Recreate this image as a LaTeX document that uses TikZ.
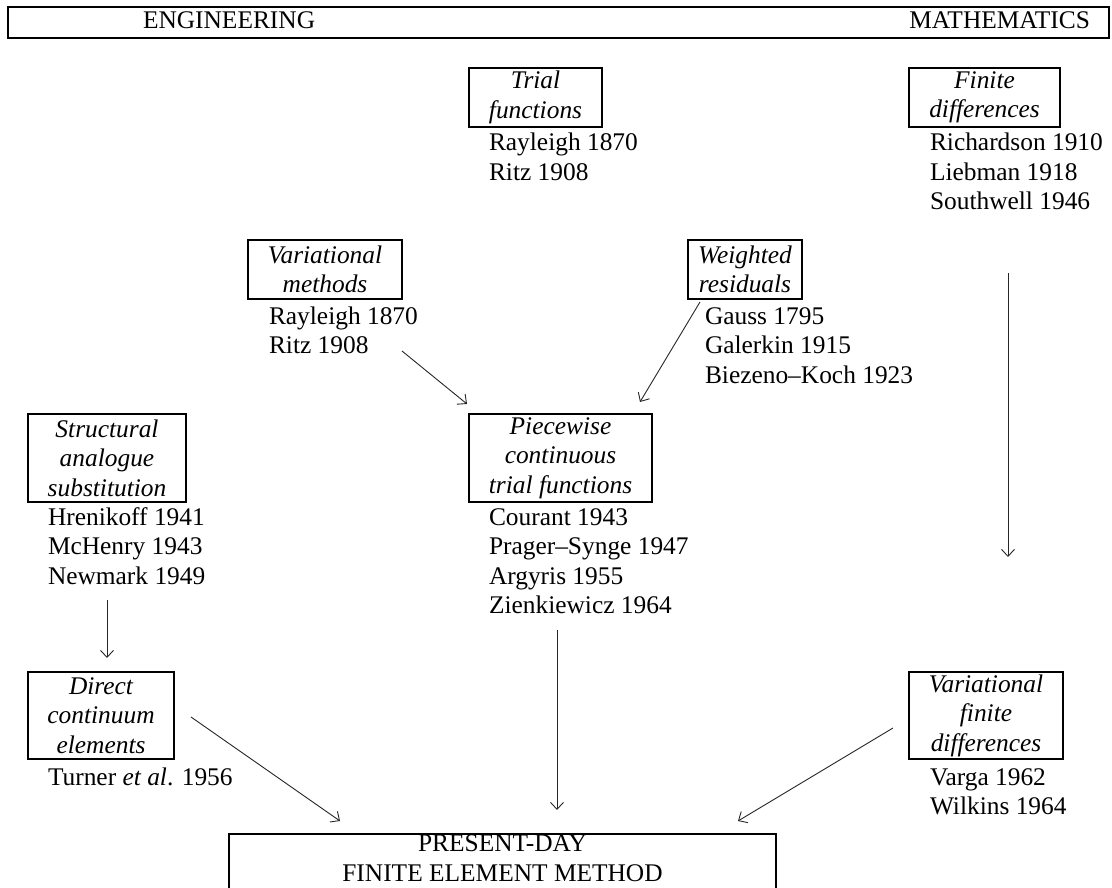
\documentclass[tikz,border=0pt]{standalone}
\usepackage{fontspec}
\setmainfont{Liberation Serif}
\usetikzlibrary{arrows.meta,calc,positioning}

\begin{document}
\begin{tikzpicture}[
  x=1pt, y=1pt,
  every node/.style={font=\fontsize{25.4}{29.5}\selectfont, inner sep=0pt, outer sep=0pt},
  topic/.style={
    draw,
    line width=1.2pt,
    align=center,
    anchor=north west,
    minimum width=#1,
    minimum height=59pt,
    font=\fontsize{25.4}{29.5}\selectfont\itshape
    },
  names/.style={align=left, anchor=base west},
  arr/.style={line width=0.9pt, black!85, -{Straight Barb[length=7pt,width=13pt]}}
]
\useasboundingbox (0,0) rectangle (1112,-888);
\clip (0,0) rectangle (1112,-888);

% heading bar
\node[draw, line width=1.5pt, anchor=north west, minimum width=1101pt, minimum height=31pt] (bar) at (8,-7) {};
\node[anchor=base west] (eng) at (143,-29) {ENGINEERING};
\node[anchor=base east] (math) at (1090,-29) {MATHEMATICS};

% topics and names (names placed at the baseline of their last line)
\node[topic=133pt] (trial) at (469,-68) {Trial\\functions};
\node[names] (triallist) at (489,-180.5) {Rayleigh 1870\\Ritz 1908};

\node[topic=151pt] (findiff) at (909,-68) {Finite\\differences};
\node[names] (findifflist) at (930,-210) {Richardson 1910\\Liebman 1918\\Southwell 1946};

\node[topic=154pt] (varmeth) at (248,-240) {Variational\\methods};
\node[names] (varmethlist) at (269,-353.5) {Rayleigh 1870\\Ritz 1908};

\node[topic=114pt] (weighted) at (688,-240) {Weighted\\residuals};
\node[names] (weightedlist) at (705,-383) {Gauss 1795\\Galerkin 1915\\Biezeno--Koch 1923};

\node[topic=158pt, minimum height=88pt] (struct) at (28,-414) {Structural\\analogue\\substitution};
\node[names] (structlist) at (48,-584) {Hrenikoff 1941\\McHenry 1943\\Newmark 1949};

\node[topic=183pt, minimum height=88pt] (piece) at (469,-414) {Piecewise\\continuous\\trial functions};
\node[names] (piecelist) at (489,-613.5) {Courant 1943\\Prager--Synge 1947\\Argyris 1955\\Zienkiewicz 1964};

\node[topic=146pt, minimum height=87pt] (direct) at (28,-672) {Direct\\continuum\\elements};
\node[names] (directlist) at (48,-785) {Turner \textit{et al}. 1956};

\node[topic=154pt, minimum height=87pt] (varfin) at (909,-672) {Variational\\finite\\differences};
\node[names] (varfinlist) at (930,-814.5) {Varga 1962\\Wilkins 1964};

\node[draw, line width=1.2pt, anchor=north west, minimum width=547pt, minimum height=90pt] (present) at (229,-834) {};
\node[anchor=base, align=center] (presentlbl) at ($(present.north)+(0,-47)$) {PRESENT-DAY\\FINITE ELEMENT METHOD};

% connectors
\draw[arr] ([shift={(0,-52)}]varmeth.south east) -- ([shift={(-2,10)}]piece.north west);
\draw[arr] ([shift={(12,-3)}]weighted.south west) -- ([shift={(-12,12)}]piece.north east);
\draw[arr] ([shift={(-52,-146)}]findiff.south east) -- ([shift={(-55,115)}]varfin.north east);
\draw[arr] ([yshift=-98pt]struct.south) -- ($(struct.south |- direct.north)+(0,14)$);
\draw[arr] ([shift={(-3.5,-128)}]piece.south) -- ($(piece.south |- present.north)+(-3.5,24)$);
\draw[arr] ([shift={(17,-1.5)}]direct.east) -- ([shift={(111,13)}]present.north west);
\draw[arr] ([shift={(-16,-12.5)}]varfin.west) -- ([shift={(-38,13)}]present.north east);
\end{tikzpicture}
\end{document}
